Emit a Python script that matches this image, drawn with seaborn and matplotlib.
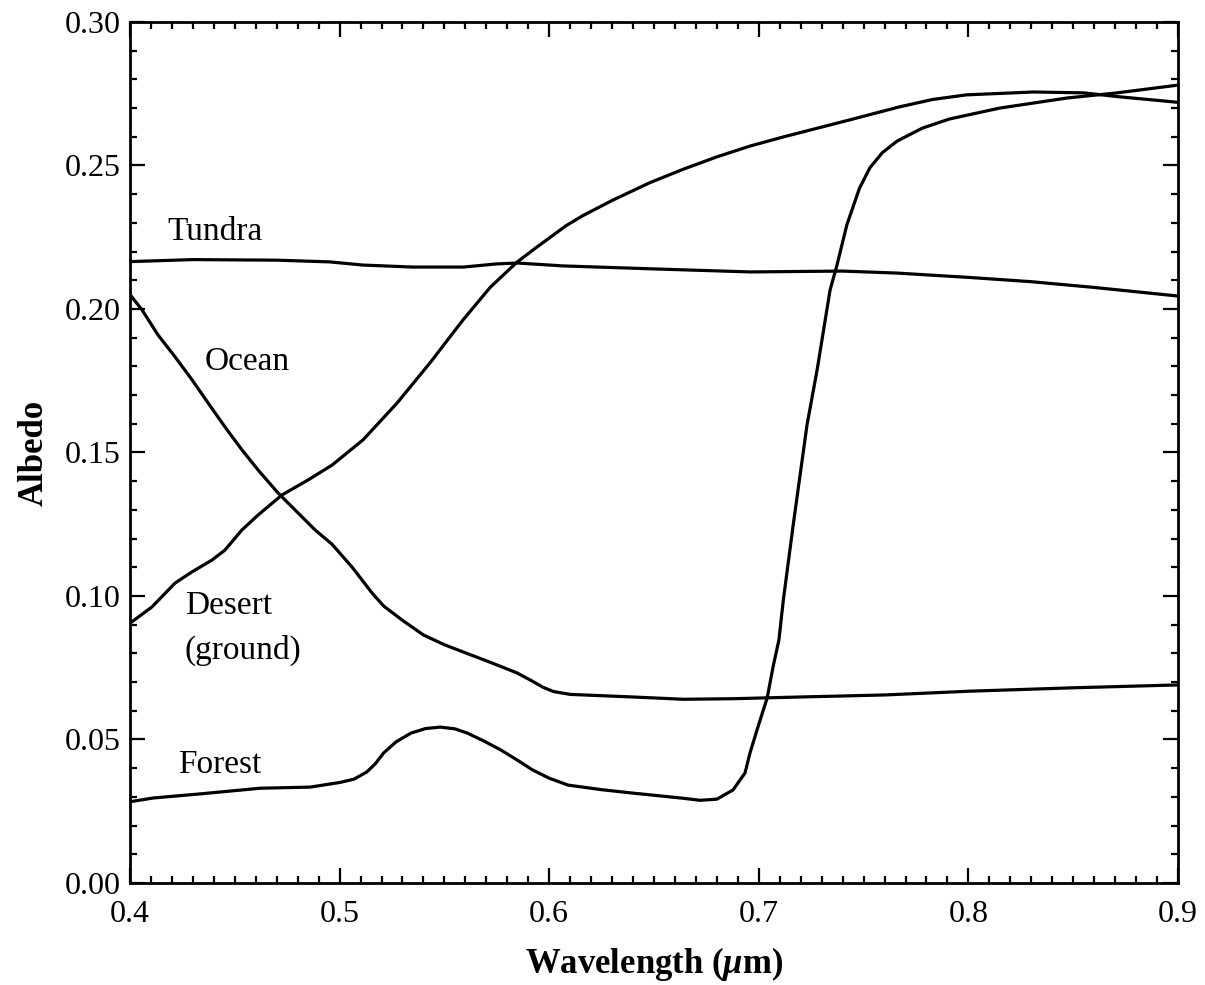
import numpy as np
import pandas as pd
import matplotlib
matplotlib.use("Agg")
import matplotlib.pyplot as plt
from matplotlib.ticker import MultipleLocator, FormatStrFormatter
import seaborn as sns

# Spectral albedo of surface types (wavelength in micrometres)
tundra_wl = [0.400, 0.430, 0.470, 0.4954, 0.511, 0.535, 0.559, 0.575, 0.585, 0.6066,
             0.648, 0.696, 0.740, 0.766, 0.800, 0.830, 0.860, 0.880, 0.900]
tundra_albedo = [0.2165, 0.2172, 0.2170, 0.2164, 0.2153, 0.2146, 0.2146, 0.2157, 0.2160, 0.2150,
                 0.2140, 0.2129, 0.2132, 0.2125, 0.2110, 0.2095, 0.2075, 0.2060, 0.2045]

ocean_wl = [0.400, 0.4057, 0.4134, 0.4215, 0.4296, 0.4373, 0.4453, 0.4534, 0.4611, 0.4706,
            0.4802, 0.4883, 0.4964, 0.506, 0.5155, 0.521, 0.530, 0.540, 0.550, 0.5607,
            0.5725, 0.5846, 0.592, 0.597, 0.602, 0.610, 0.640, 0.664, 0.688, 0.720,
            0.760, 0.800, 0.850, 0.900]
ocean_albedo = [0.2050, 0.1997, 0.1909, 0.1833, 0.1753, 0.1672, 0.1589, 0.1509, 0.1439, 0.1359,
                0.1289, 0.1230, 0.1180, 0.1100, 0.1010, 0.0965, 0.0915, 0.0864, 0.0830, 0.0800,
                0.0767, 0.0732, 0.0703, 0.0682, 0.0667, 0.0657, 0.0648, 0.0640, 0.0642, 0.0648,
                0.0655, 0.0668, 0.0680, 0.0690]

desert_wl = [0.400, 0.4105, 0.4215, 0.4296, 0.4391, 0.4453, 0.4534, 0.4611, 0.4725, 0.4849,
             0.4964, 0.5112, 0.5274, 0.5431, 0.5589, 0.5718, 0.5846, 0.594, 0.600, 0.608,
             0.616, 0.630, 0.648, 0.664, 0.680, 0.696, 0.712, 0.728, 0.744, 0.767,
             0.783, 0.799, 0.831, 0.855, 0.871, 0.900]
desert_albedo = [0.0905, 0.0962, 0.1045, 0.1084, 0.1125, 0.1160, 0.1230, 0.1282, 0.1352, 0.1404,
                 0.1456, 0.1544, 0.1672, 0.1812, 0.1962, 0.2075, 0.2163, 0.2215, 0.2247, 0.2290,
                 0.2325, 0.2378, 0.2440, 0.2487, 0.2530, 0.2568, 0.2600, 0.2630, 0.2660, 0.2704,
                 0.2730, 0.2746, 0.2756, 0.2753, 0.2740, 0.2720]

forest_wl = [0.400, 0.411, 0.433, 0.462, 0.486, 0.500, 0.507, 0.513, 0.517, 0.521,
             0.527, 0.534, 0.541, 0.548, 0.555, 0.561, 0.569, 0.577, 0.585, 0.592,
             0.600, 0.609, 0.625, 0.640, 0.664, 0.672, 0.680, 0.6877, 0.6934, 0.6958,
             0.6996, 0.704, 0.7068, 0.7096, 0.7117, 0.7164, 0.723, 0.7278, 0.734, 0.7373,
             0.742, 0.748, 0.753, 0.759, 0.766, 0.778, 0.791, 0.815, 0.847, 0.871,
             0.900]
forest_albedo = [0.0283, 0.0296, 0.0310, 0.0330, 0.0334, 0.0350, 0.0362, 0.0387, 0.0415, 0.0453,
                 0.0492, 0.0522, 0.0538, 0.0543, 0.0537, 0.0522, 0.0494, 0.0463, 0.0427, 0.0394,
                 0.0365, 0.0341, 0.0325, 0.0313, 0.0295, 0.0288, 0.0292, 0.0324, 0.0383, 0.0453,
                 0.0544, 0.0645, 0.0753, 0.0847, 0.0986, 0.1247, 0.1596, 0.1787, 0.2066, 0.2153,
                 0.2293, 0.2420, 0.2492, 0.2545, 0.2585, 0.2630, 0.2662, 0.2700, 0.2735, 0.2753,
                 0.2780]

series = {
    "Tundra": (tundra_wl, tundra_albedo),
    "Ocean": (ocean_wl, ocean_albedo),
    "Desert": (desert_wl, desert_albedo),
    "Forest": (forest_wl, forest_albedo),
}

# Curve labels: text, x, y
label_text = ["Tundra", "Ocean", "Desert", "(ground)", "Forest"]
label_x = [0.4177, 0.4358, 0.4262, 0.4262, 0.4229]
label_y = [0.2268, 0.1815, 0.0965, 0.0812, 0.0411]

x_ticks = [0.4, 0.5, 0.6, 0.7, 0.8, 0.9]
y_ticks = [0.00, 0.05, 0.10, 0.15, 0.20, 0.25, 0.30]

sns.set_theme(style="ticks")
plt.rcParams["font.family"] = ["Liberation Serif", "DejaVu Serif"]
plt.rcParams["text.color"] = "black"
plt.rcParams["axes.labelcolor"] = "black"
plt.rcParams["mathtext.fontset"] = "custom"
plt.rcParams["mathtext.rm"] = "Liberation Serif:bold"
plt.rcParams["mathtext.it"] = "Liberation Serif:italic:bold"

fig = plt.figure(figsize=(12.05, 9.85), dpi=100)
ax = fig.add_axes([0.1079, 0.1036, 0.8697, 0.8741])

frames = []
for name, (wl, alb) in series.items():
    frames.append(pd.DataFrame({"wavelength": wl, "albedo": alb, "surface": name}))
df = pd.concat(frames, ignore_index=True)

for name in series:
    sns.lineplot(data=df[df["surface"] == name], x="wavelength", y="albedo",
                 color="black", linewidth=2.3, sort=False, estimator=None, ax=ax)

for t, x, y in zip(label_text, label_x, label_y):
    ax.text(x, y, t, fontsize=24, color="black", ha="left", va="center")

ax.set_xlim(0.4, 0.9)
ax.set_ylim(0.0, 0.30)
ax.set_xticks(x_ticks)
ax.set_yticks(y_ticks)
ax.xaxis.set_major_formatter(FormatStrFormatter("%.1f"))
ax.yaxis.set_major_formatter(FormatStrFormatter("%.2f"))
ax.xaxis.set_minor_locator(MultipleLocator(0.01))
ax.yaxis.set_minor_locator(MultipleLocator(0.01))
ax.tick_params(which="both", direction="in", top=True, right=True,
               colors="black", labelsize=23, width=1.6)
ax.tick_params(which="major", length=11)
ax.tick_params(which="minor", length=5)
ax.tick_params(axis="x", which="major", pad=12)
ax.tick_params(axis="y", which="major", pad=7)
for s in ax.spines.values():
    s.set_linewidth(2.0)
    s.set_color("black")
    s.set_visible(True)

ax.set_xlabel(r"Wavelength ($\mu$m)", fontsize=25, fontweight="bold", labelpad=12, color="black")
ax.set_ylabel("Albedo", fontsize=25, fontweight="bold", labelpad=10, color="black")

fig.savefig("out.png", dpi=100, facecolor="white")
